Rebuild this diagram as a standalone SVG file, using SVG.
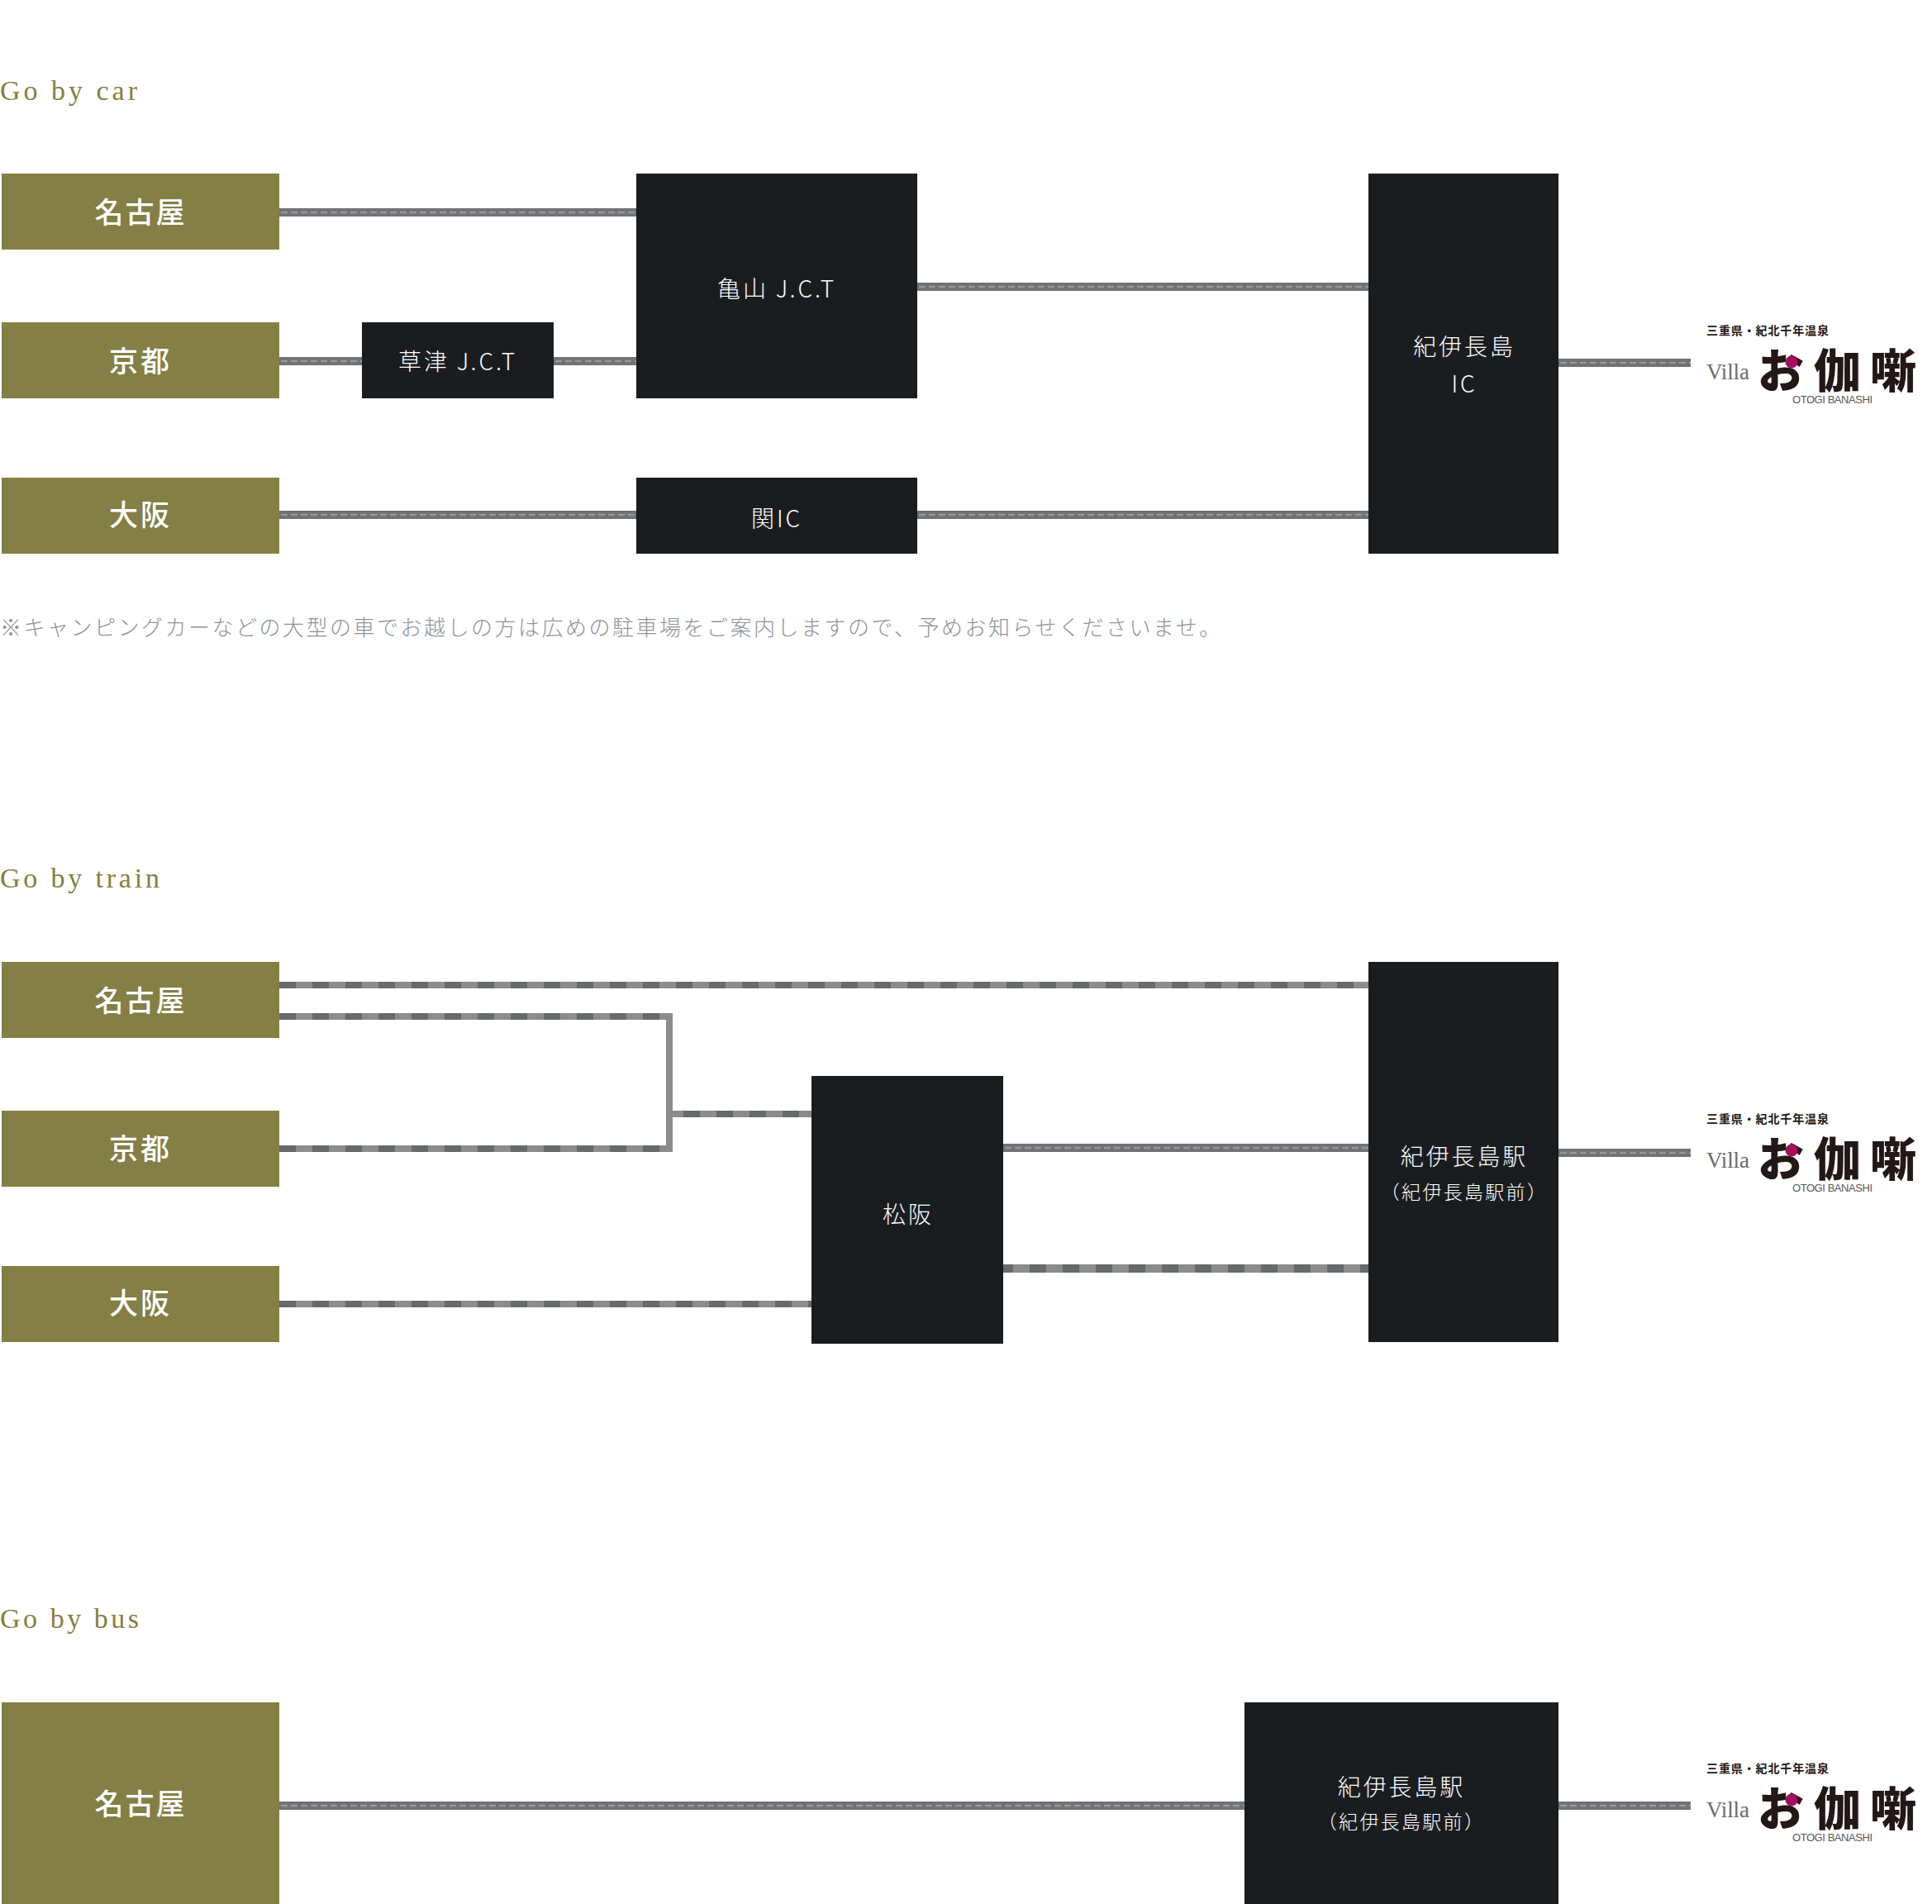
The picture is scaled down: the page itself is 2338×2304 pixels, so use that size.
<svg xmlns="http://www.w3.org/2000/svg" width="2338" height="2304" viewBox="0 0 2338 2304">
<style>
text{font-family:"Noto Sans CJK JP","Noto Sans",sans-serif;}
.h{font-family:"Liberation Serif","Noto Serif",serif;font-size:34px;fill:#84803f;}
.o{fill:#847f45}.d{fill:#1a1d20}
.ol{font-size:35px;font-weight:500;fill:#fff;text-anchor:middle}
.dl{font-size:28px;font-weight:300;fill:#fff;text-anchor:middle;letter-spacing:2.9px}
.ds{font-size:23px;font-weight:300;fill:#fff;text-anchor:middle;letter-spacing:2.3px}
.note{font-size:26px;font-weight:300;fill:#8f9398;letter-spacing:2.5px}
.road{stroke:#707274;stroke-width:10;fill:none}
.rd{stroke:#969698;stroke-width:2.5;stroke-dasharray:8 4;stroke-dashoffset:-2;fill:none}
.rail{stroke:#8c8c8c;fill:none}
.rk{stroke:#666a6b;stroke-dasharray:20 20;fill:none}
.t1{font-size:14px;font-weight:700;fill:#231815}
.t2{font-family:"Liberation Serif",serif;font-size:27px;fill:#6b6b6b}
.t3{font-size:56px;font-weight:900;fill:#231815}
.t4{font-family:"Liberation Sans",Arial,sans-serif;font-size:13px;fill:#595757}
</style>
<rect width="2338" height="2304" fill="#fff"/>

<g id="connectors">
<line class="road" x1="338" y1="257" x2="770" y2="257"/><line class="rd" x1="338" y1="257" x2="770" y2="257"/>
<line class="road" x1="338" y1="437" x2="438" y2="437"/><line class="rd" x1="338" y1="437" x2="438" y2="437"/>
<line class="road" x1="670" y1="437" x2="770" y2="437"/><line class="rd" x1="670" y1="437" x2="770" y2="437"/>
<line class="road" x1="338" y1="623" x2="770" y2="623"/><line class="rd" x1="338" y1="623" x2="770" y2="623"/>
<line class="road" x1="1110" y1="347" x2="1656" y2="347"/><line class="rd" x1="1110" y1="347" x2="1656" y2="347"/>
<line class="road" x1="1110" y1="623" x2="1656" y2="623"/><line class="rd" x1="1110" y1="623" x2="1656" y2="623"/>
<line class="road" x1="1886" y1="439" x2="2046" y2="439"/><line class="rd" x1="1886" y1="439" x2="2046" y2="439"/>

<line class="rail" stroke-width="8" x1="338" y1="1192" x2="1656" y2="1192"/><line class="rk" stroke-width="8" x1="338" y1="1192" x2="1656" y2="1192"/>
<line class="rail" stroke-width="8" x1="338" y1="1230" x2="814" y2="1230"/><line class="rk" stroke-width="8" x1="338" y1="1230" x2="806" y2="1230"/>
<line class="rail" stroke-width="8" x1="338" y1="1390" x2="814" y2="1390"/><line class="rk" stroke-width="8" x1="338" y1="1390" x2="806" y2="1390"/>
<line class="rail" stroke-width="8" x1="810" y1="1226" x2="810" y2="1394"/>
<line class="rail" stroke-width="8" x1="814" y1="1348" x2="982" y2="1348"/><line class="rk" stroke-width="8" stroke-dashoffset="27" x1="814" y1="1348" x2="982" y2="1348"/>
<line class="rail" stroke-width="8" x1="338" y1="1578" x2="982" y2="1578"/><line class="rk" stroke-width="8" x1="338" y1="1578" x2="982" y2="1578"/>
<line class="road" x1="1214" y1="1389" x2="1656" y2="1389"/><line class="rd" x1="1214" y1="1389" x2="1656" y2="1389"/>
<line class="rail" stroke-width="10" x1="1214" y1="1535" x2="1656" y2="1535"/><line class="rk" stroke-width="10" stroke-dashoffset="8" x1="1214" y1="1535" x2="1656" y2="1535"/>
<line class="road" x1="1886" y1="1395" x2="2046" y2="1395"/><line class="rd" x1="1886" y1="1395" x2="2046" y2="1395"/>

<line class="road" x1="338" y1="2185" x2="1506" y2="2185"/><line class="rd" x1="338" y1="2185" x2="1506" y2="2185"/>
<line class="road" x1="1886" y1="2185" x2="2046" y2="2185"/><line class="rd" x1="1886" y1="2185" x2="2046" y2="2185"/>
</g>

<text class="h" x="0" y="121" textLength="166">Go by car</text>
<text class="h" x="0" y="1074" textLength="193">Go by train</text>
<text class="h" x="0" y="1970" textLength="168">Go by bus</text>

<g id="car-nagoya"><rect class="o" x="2" y="210" width="336" height="92"/><text class="ol" x="170" y="270" letter-spacing="2">名古屋</text></g>
<g id="car-kyoto"><rect class="o" x="2" y="390" width="336" height="92"/><text class="ol" x="170" y="450" letter-spacing="3">京都</text></g>
<g id="car-osaka"><rect class="o" x="2" y="578" width="336" height="92"/><text class="ol" x="170" y="636" letter-spacing="3">大阪</text></g>
<g id="car-kusatsu"><rect class="d" x="438" y="390" width="232" height="92"/><text class="dl" x="554" y="448">草津 J.C.T</text></g>
<g id="car-kameyama"><rect class="d" x="770" y="210" width="340" height="272"/><text class="dl" x="940" y="360">亀山 J.C.T</text></g>
<g id="car-seki"><rect class="d" x="770" y="578" width="340" height="92"/><text class="dl" x="940" y="638">関IC</text></g>
<g id="car-kiinagashima"><rect class="d" x="1656" y="210" width="230" height="460"/><text class="dl" x="1772" y="430">紀伊長島</text><text class="dl" x="1772" y="475">IC</text></g>
<text class="note" x="0" y="769">※キャンピングカーなどの大型の車でお越しの方は広めの駐車場をご案内しますので、予めお知らせくださいませ。</text>
<g id="car-logo">
<text class="t1" x="2065" y="405" textLength="148">三重県・紀北千年温泉</text>
<text class="t2" x="2065" y="459" textLength="52">Villa</text>
<text class="t3" x="2127" y="469" textLength="192">お伽噺</text>
<circle cx="2168" cy="438" r="7.5" fill="#a50d5e"/>
<text class="t4" x="2169" y="488" textLength="97">OTOGI BANASHI</text>
</g>

<g id="train-nagoya"><rect class="o" x="2" y="1164" width="336" height="92"/><text class="ol" x="170" y="1224" letter-spacing="2">名古屋</text></g>
<g id="train-kyoto"><rect class="o" x="2" y="1344" width="336" height="92"/><text class="ol" x="170" y="1403" letter-spacing="3">京都</text></g>
<g id="train-osaka"><rect class="o" x="2" y="1532" width="336" height="92"/><text class="ol" x="170" y="1590" letter-spacing="3">大阪</text></g>
<g id="train-matsusaka"><rect class="d" x="982" y="1302" width="232" height="324"/><text class="dl" x="1099" y="1480">松阪</text></g>
<g id="train-kiinagashima"><rect class="d" x="1656" y="1164" width="230" height="460"/><text class="dl" x="1772" y="1410">紀伊長島駅</text><text class="ds" x="1772" y="1451">（紀伊長島駅前）</text></g>
<g id="train-logo">
<text class="t1" x="2065" y="1359" textLength="148">三重県・紀北千年温泉</text>
<text class="t2" x="2065" y="1413" textLength="52">Villa</text>
<text class="t3" x="2127" y="1423" textLength="192">お伽噺</text>
<circle cx="2168" cy="1392" r="7.5" fill="#a50d5e"/>
<text class="t4" x="2169" y="1442" textLength="97">OTOGI BANASHI</text>
</g>

<g id="bus-nagoya"><rect class="o" x="2" y="2060" width="336" height="244"/><text class="ol" x="170" y="2196" letter-spacing="2">名古屋</text></g>
<g id="bus-kiinagashima"><rect class="d" x="1506" y="2060" width="380" height="244"/><text class="dl" x="1696" y="2173">紀伊長島駅</text><text class="ds" x="1696" y="2213">（紀伊長島駅前）</text></g>
<g id="bus-logo">
<text class="t1" x="2065" y="2145" textLength="148">三重県・紀北千年温泉</text>
<text class="t2" x="2065" y="2199" textLength="52">Villa</text>
<text class="t3" x="2127" y="2209" textLength="192">お伽噺</text>
<circle cx="2168" cy="2178" r="7.5" fill="#a50d5e"/>
<text class="t4" x="2169" y="2228" textLength="97">OTOGI BANASHI</text>
</g>
</svg>
